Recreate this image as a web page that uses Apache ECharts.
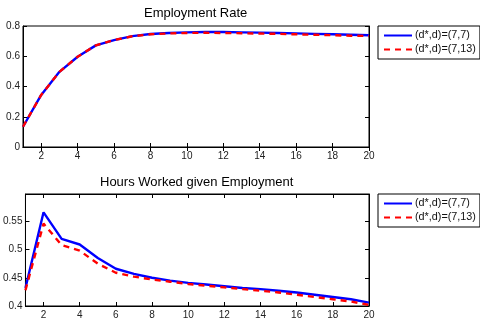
<!DOCTYPE html>
<html><head><meta charset="utf-8">
<script src="https://cdn.jsdelivr.net/npm/echarts@6/dist/echarts.min.js"></script>
<style>html,body{margin:0;padding:0;background:#fff}#c{width:480px;height:320px}</style>
</head><body><div id="c"></div>
<script>
const periods = [1,2,3,4,5,6,7,8,9,10,11,12,13,14,15,16,17,18,19,20];
const empA = [0.134,0.344,0.497,0.597,0.672,0.707,0.733,0.747,0.754,0.758,0.760,0.760,0.758,0.756,0.754,0.751,0.748,0.745,0.742,0.739];
const empB = [0.134,0.344,0.497,0.597,0.672,0.707,0.732,0.745,0.751,0.754,0.755,0.754,0.752,0.750,0.748,0.745,0.742,0.739,0.736,0.734];
const hrsA = [0.432,0.566,0.519,0.509,0.485,0.466,0.457,0.450,0.445,0.441,0.438,0.435,0.432,0.430,0.427,0.424,0.420,0.416,0.412,0.406];
const hrsB = [0.428,0.546,0.508,0.498,0.475,0.459,0.452,0.447,0.443,0.439,0.436,0.433,0.430,0.427,0.424,0.420,0.416,0.412,0.408,0.402];
const xTicks = [2,4,6,8,10,12,14,16,18,20];
const yTicksTop = [0,0.2,0.4,0.6,0.8];
const yTicksBot = [0.4,0.45,0.5,0.55];
const nameA = '(d*,d)=(7,7)';
const nameB = '(d*,d)=(7,13)';

const font = 'Liberation Sans, Arial, sans-serif';
const lab = {color:'#222', fontSize:10, fontFamily:font};
function xAx(gi, bottom){
  return {type:'value', gridIndex:gi, min:1, max:20, position: bottom?'bottom':'top',
    axisLine:{show:true,lineStyle:{color:'#000',width:1}},
    axisTick:{show:true,inside:true,length:4,customValues:xTicks,lineStyle:{color:'#000'}},
    axisLabel:{show:bottom,customValues:xTicks,margin:4,...lab},
    splitLine:{show:false}};
}
function yAx(gi, left, min, max, ticks){
  return {type:'value', gridIndex:gi, min:min, max:max, position: left?'left':'right',
    axisLine:{show:true,lineStyle:{color:'#000',width:1}},
    axisTick:{show:true,inside:true,length:4,customValues:ticks,lineStyle:{color:'#000'}},
    axisLabel:{show:left,customValues:ticks,margin:3,...lab},
    splitLine:{show:false}};
}
function pts(ys){ return periods.map((p,i)=>[p,ys[i]]); }
function ser(name, data, xi, yi, dashed){
  return {name:name, type:'line', xAxisIndex:xi, yAxisIndex:yi, data:pts(data), symbol:'none',
    lineStyle: dashed ? {color:'#ff0000', width:2.4, type:[6,5]} : {color:'#0000ff', width:2.4},
    itemStyle:{color: dashed?'#ff0000':'#0000ff'}, animation:false};
}
const legendBase = {orient:'vertical', backgroundColor:'#fff', borderColor:'#000', borderWidth:1,
  padding:[4,4,4,5], itemGap:3, itemWidth:28, itemHeight:10, data:[nameA,nameB],
  itemStyle:{opacity:0},
  textStyle:{color:'#111', fontSize:10.8, fontFamily:font, padding:[0,0,0,-2]}};

const chart = echarts.init(document.getElementById('c'), null, {renderer:'canvas'});
chart.setOption({
  animation:false,
  title:[
    {text:'Employment Rate', left:139, top:2, textStyle:{fontSize:13, fontWeight:'normal', color:'#000', fontFamily:font}},
    {text:'Hours Worked given Employment', left:95, top:171, textStyle:{fontSize:13, fontWeight:'normal', color:'#000', fontFamily:font}}
  ],
  grid:[
    {left:23, top:26, width:346, height:121, show:true, borderColor:'#000', borderWidth:1},
    {left:23, top:194, width:346, height:114, show:true, borderColor:'#000', borderWidth:1}
  ],
  xAxis:[xAx(0,true), xAx(0,false), xAx(1,true), xAx(1,false)],
  yAxis:[yAx(0,true,0,0.8,yTicksTop), yAx(0,false,0,0.8,yTicksTop), yAx(1,true,0.4,0.5985,yTicksBot), yAx(1,false,0.4,0.5985,yTicksBot)],
  legend:[
    {...legendBase, left:378, top:26},
    {...legendBase, left:378, top:194}
  ],
  series:[
    ser(nameA, empA, 0, 0, false),
    ser(nameB, empB, 0, 0, true),
    ser(nameA, hrsA, 2, 2, false),
    ser(nameB, hrsB, 2, 2, true)
  ]
});
</script></body></html>
